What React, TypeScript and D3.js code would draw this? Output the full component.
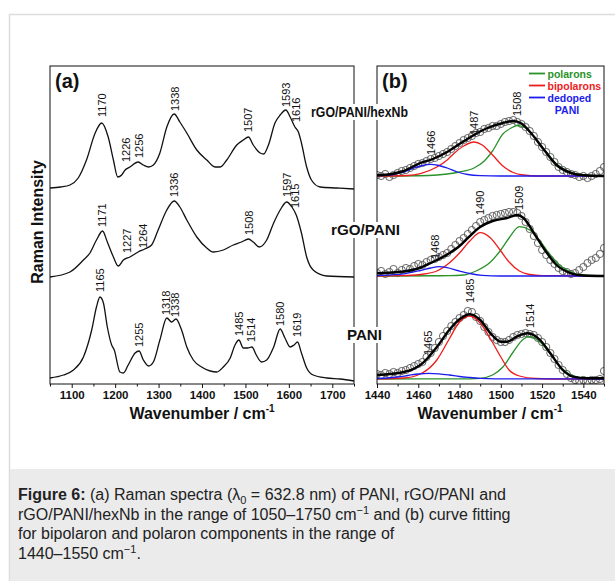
import React, { useEffect, useRef } from "react";
import * as d3 from "d3";

const FONT = "'Liberation Sans', Arial, sans-serif";

// ---- panel (a): Raman spectra, [wavenumber, intensity a.u.] (already stacked) ----
const hexNbSpectrum: [number, number][] = [
  [1050, 196], [1075, 197], [1096, 199], [1115, 206], [1134, 224], [1154, 251], [1169, 261],
  [1184, 247], [1196, 224], [1206, 207], [1215, 209], [1223, 214], [1234, 217], [1253, 222],
  [1265, 219], [1277, 217], [1288, 219], [1303, 231], [1319, 257], [1336, 270], [1349, 262],
  [1365, 251], [1388, 234], [1411, 224], [1430, 217], [1442, 217], [1457, 224], [1480, 239],
  [1495, 244], [1507, 247], [1518, 239], [1534, 231], [1542, 230], [1553, 239], [1568, 261],
  [1580, 269], [1593, 274], [1603, 267], [1614, 257], [1622, 252], [1629, 241], [1641, 217],
  [1652, 204], [1672, 197], [1710, 196], [1750, 195],
];

const rgoSpectrum: [number, number][] = [
  [1050, 107], [1096, 112], [1127, 124], [1142, 131], [1157, 144], [1171, 153], [1182, 142],
  [1196, 127], [1207, 118], [1219, 124], [1234, 127], [1253, 132], [1268, 135], [1284, 139],
  [1299, 154], [1319, 174], [1336, 183], [1349, 177], [1365, 164], [1388, 147], [1411, 136],
  [1426, 132], [1449, 134], [1472, 139], [1491, 142], [1507, 145], [1518, 142], [1532, 137],
  [1549, 144], [1565, 161], [1580, 174], [1595, 182], [1607, 177], [1617, 169], [1629, 151],
  [1641, 127], [1656, 114], [1687, 108], [1750, 107],
];

const paniSpectrum: [number, number][] = [
  [1050, 6], [1081, 9], [1104, 14], [1127, 27], [1146, 54], [1157, 77], [1165, 87], [1173, 81],
  [1182, 57], [1192, 39], [1198, 34], [1211, 12], [1219, 11], [1230, 19], [1246, 31], [1255, 33],
  [1265, 24], [1277, 18], [1288, 22], [1303, 44], [1319, 66], [1330, 62], [1340, 65], [1353, 54],
  [1365, 37], [1380, 24], [1399, 17], [1419, 13], [1434, 12], [1449, 17], [1465, 26], [1476, 39],
  [1485, 44], [1495, 36], [1505, 36], [1515, 37], [1525, 29], [1537, 22], [1549, 24], [1565, 37],
  [1580, 55], [1591, 46], [1603, 37], [1612, 39], [1620, 42], [1629, 31], [1641, 16], [1656, 9],
  [1687, 6], [1718, 5], [1750, 3],
];

// peak labels [wavenumber, label foot]
const peaksHexNb: [number, number][] = [[1170, 267], [1226, 222], [1256, 226], [1338, 273], [1507, 252], [1593, 277], [1616, 262]];
const peaksRgo: [number, number][] = [[1171, 157], [1227, 131], [1264, 136], [1336, 187], [1508, 149], [1597, 187], [1615, 176]];
const peaksPani: [number, number][] = [[1165, 92], [1255, 37], [1318, 69], [1338, 67], [1485, 48], [1514, 42], [1580, 58], [1619, 47]];

const sampleNames = ["rGO/PANI/hexNb", "rGO/PANI", "PANI"];

// ---- panel (b): curve fitting, values above each baseline ----
const fitOffsets = [208, 108, 5];

const pointsHexNb: [number, number][] = [
  [1440, 1], [1442, 0], [1444, 2], [1446, -1], [1448, 1], [1450, 3], [1452, 5], [1454, 6], [1456, 8],
  [1458, 10], [1460, 12], [1462, 13], [1464, 15], [1466, 17], [1468, 18], [1470, 20], [1472, 22],
  [1474, 24], [1476, 27], [1478, 30], [1480, 33], [1482, 36], [1484, 38], [1486, 40], [1488, 43],
  [1490, 44], [1492, 47], [1494, 48], [1496, 50], [1498, 50], [1500, 52], [1502, 54], [1504, 55],
  [1506, 56], [1508, 54], [1510, 52], [1512, 49], [1514, 45], [1516, 40], [1518, 34], [1520, 29],
  [1522, 24], [1524, 19], [1526, 14], [1528, 9], [1530, 6], [1532, 4], [1534, 2], [1536, 1],
  [1538, -1], [1540, 0], [1542, -2], [1544, 0], [1546, 2], [1548, 5], [1550, 9],
];
const pointsRgo: [number, number][] = [
  [1440, 3], [1442, 5], [1444, 2], [1446, 4], [1448, 7], [1450, 3], [1452, 6], [1454, 8], [1456, 7],
  [1458, 10], [1460, 12], [1462, 11], [1464, 14], [1466, 16], [1468, 17], [1470, 19], [1472, 21],
  [1474, 23], [1476, 27], [1478, 31], [1480, 35], [1482, 38], [1484, 42], [1486, 46], [1488, 50],
  [1490, 54], [1492, 56], [1494, 58], [1496, 60], [1498, 61], [1500, 62], [1502, 63], [1504, 64],
  [1506, 64], [1508, 63], [1510, 60], [1512, 54], [1514, 47], [1516, 40], [1518, 33], [1520, 26],
  [1522, 21], [1524, 16], [1526, 12], [1528, 8], [1530, 5], [1532, 4], [1534, 2], [1536, 3],
  [1538, 6], [1540, 9], [1542, 13], [1544, 16], [1546, 18], [1548, 22], [1550, 28],
];
const pointsPani: [number, number][] = [
  [1440, 5], [1442, 4], [1444, 6], [1446, 5], [1448, 7], [1450, 6], [1452, 8], [1454, 9], [1456, 11],
  [1458, 13], [1460, 15], [1462, 17], [1464, 22], [1466, 26], [1468, 31], [1470, 37], [1472, 43],
  [1474, 48], [1476, 53], [1478, 57], [1480, 61], [1482, 64], [1484, 68], [1486, 67], [1488, 62],
  [1490, 58], [1492, 52], [1494, 47], [1496, 42], [1498, 39], [1500, 37], [1502, 37], [1504, 39],
  [1506, 42], [1508, 44], [1510, 45], [1512, 46], [1514, 45], [1516, 44], [1518, 41], [1520, 37],
  [1522, 32], [1524, 26], [1526, 20], [1528, 14], [1530, 9], [1532, 5], [1534, 1], [1536, -1],
  [1538, -2], [1540, -1], [1542, -2], [1544, -1], [1546, -1], [1548, 0], [1550, 8],
];

const fitHexNb: [number, number][] = [
  [1440, 0.7], [1447, 2], [1453, 5], [1461, 13], [1467, 17], [1474, 24], [1480, 32], [1487, 41],
  [1493, 47.5], [1501, 53], [1506, 55], [1510, 52.5], [1515, 42], [1521, 26], [1527, 11],
  [1534, 3], [1540, 0.7], [1550, 0],
];
const polaronHexNb: [number, number][] = [
  [1440, 0], [1465, 0.5], [1474, 2], [1480, 4], [1487, 8], [1492, 15], [1496, 25], [1501, 42],
  [1505, 48], [1508, 50.5], [1512, 48], [1517, 37], [1522, 24], [1527, 12], [1533, 4.5], [1540, 1], [1550, 0],
];
const bipolaronHexNb: [number, number][] = [
  [1440, 0], [1455, 0.5], [1461, 2.3], [1469, 9], [1474, 16], [1477, 22], [1482, 30], [1487, 34],
  [1491, 31], [1496, 21], [1501, 10], [1506, 3.5], [1511, 1], [1518, 0], [1550, 0],
];
const dedopedHexNb: [number, number][] = [
  [1440, 0.3], [1448, 1.5], [1453, 4], [1458, 8], [1462, 10.5], [1466, 11.7], [1470, 10.5],
  [1474, 8], [1479, 4], [1484, 1.5], [1490, 0.4], [1500, 0], [1550, 0],
];

const fitRgo: [number, number][] = [
  [1440, 2.7], [1453, 4.5], [1460, 7.5], [1466, 13], [1475, 22.7], [1480, 30], [1484, 38], [1490, 49],
  [1496, 55], [1503, 58], [1508, 61], [1511, 58], [1516, 43], [1521, 27], [1527, 11], [1534, 2.7],
  [1540, 0.5], [1550, 0],
];
const polaronRgo: [number, number][] = [
  [1440, 0], [1475, 0.3], [1482, 1], [1488, 5], [1495, 14], [1500, 26], [1504, 38], [1509, 49.3],
  [1514, 46], [1519, 35], [1524, 21], [1529, 10], [1534, 4], [1540, 1], [1550, 0.3],
];
const bipolaronRgo: [number, number][] = [
  [1440, 0], [1452, 0.3], [1461, 1.5], [1469, 5], [1475, 13], [1480, 23], [1485, 35], [1490, 43.3],
  [1495, 38], [1500, 25], [1504, 14], [1509, 5], [1514, 1.5], [1520, 0.3], [1550, 0],
];
const dedopedRgo: [number, number][] = [
  [1440, 0.5], [1447, 1.2], [1453, 2.2], [1461, 5.5], [1466, 8], [1470, 9.3], [1474, 8.3],
  [1479, 5.5], [1485, 2.5], [1491, 0.7], [1500, 0], [1550, 0],
];

const fitPani: [number, number][] = [
  [1440, 4], [1453, 7], [1462, 15.7], [1469, 32], [1475, 49], [1480, 59.7], [1485, 64.7], [1490, 59],
  [1495, 45.7], [1500, 37.3], [1503, 37.3], [1508, 42.7], [1513, 45.7], [1519, 39], [1524, 25.7],
  [1530, 9], [1535, 2.3], [1542, 0.7], [1550, 0.7],
];
const polaronPani: [number, number][] = [
  [1440, 0], [1485, 0.2], [1490, 0.7], [1496, 4], [1501, 12], [1506, 27], [1511, 40], [1514, 42.3],
  [1519, 37], [1524, 25], [1529, 12], [1534, 4], [1540, 1], [1550, 0],
];
const bipolaronPani: [number, number][] = [
  [1440, 0.2], [1453, 1], [1461, 5], [1469, 19], [1475, 40], [1480, 57], [1485, 63], [1490, 56],
  [1495, 40], [1500, 22], [1504, 9], [1509, 3], [1517, 0.5], [1530, 0], [1550, 0],
];
const dedopedPani: [number, number][] = [
  [1440, 0.5], [1445, 1], [1450, 2], [1455, 3.5], [1460, 5], [1465, 5.7], [1470, 5.2], [1475, 4],
  [1480, 2.5], [1485, 1.5], [1490, 0.7], [1497, 0.2], [1550, 0],
];

const peaksB: [number, number][][] = [
  [[1466, 21], [1487, 41], [1508, 60]],
  [[1468, 17], [1490, 61], [1509, 66]],
  [[1465, 24], [1485, 76], [1514, 51]],
];

const legendItems = [
  { label: "polarons", color: "#2a922a" },
  { label: "bipolarons", color: "#ee1c1c" },
  { label: "dedoped", color: "#1c1cee" },
];

const ticksA = d3.range(1100, 1701, 100);
const minorA = d3.range(1050, 1751, 100);
const ticksB = d3.range(1440, 1541, 20);
const minorB = d3.range(1450, 1551, 20);

// scales
const xA = d3.scaleLinear().domain([1050, 1750]).range([50, 354]);
const xB = d3.scaleLinear().domain([1440, 1550]).range([377, 604]);
const y = d3.scaleLinear().domain([0, 318]).range([384, 66]);

const Axis = ({ scale, major, minor }: any) => {
  const ref = useRef<SVGGElement>(null);
  useEffect(() => {
    const g = d3.select(ref.current);
    g.selectAll("*").remove();
    g.append("g").call(d3.axisBottom(scale).tickValues(minor).tickSize(2.5).tickFormat(() => ""));
    g.append("g").call(
      d3.axisBottom(scale).tickValues(major).tickSize(4).tickPadding(3).tickFormat(d3.format("d"))
    );
    g.selectAll(".domain").remove();
    g.selectAll("line").attr("stroke", "#111");
    g.selectAll("text")
      .attr("font-size", 11.5)
      .attr("font-weight", "bold")
      .attr("font-family", FONT)
      .attr("fill", "#111");
  }, [scale]);
  return <g ref={ref} transform="translate(0,384)" />;
};

const PeakLabels = ({ peaks, x, offset = 0 }: any) => (
  <g fontSize={11} fill="#111">
    {peaks.map(([wn, v]: [number, number]) => (
      <text key={wn} transform={`translate(${x(wn)},${y(v + offset)}) rotate(-90)`} dy="0.35em">
        {wn}
      </text>
    ))}
  </g>
);

export default function App() {
  const lineA = d3
    .line<[number, number]>()
    .x((d) => xA(d[0]))
    .y((d) => y(d[1]))
    .curve(d3.curveMonotoneX);
  const lineB = (off: number) =>
    d3
      .line<[number, number]>()
      .x((d) => xB(d[0]))
      .y((d) => y(d[1] + off))
      .curve(d3.curveMonotoneX);

  const fits = [
    { pts: pointsHexNb, fit: fitHexNb, comps: [polaronHexNb, bipolaronHexNb, dedopedHexNb] },
    { pts: pointsRgo, fit: fitRgo, comps: [polaronRgo, bipolaronRgo, dedopedRgo] },
    { pts: pointsPani, fit: fitPani, comps: [polaronPani, bipolaronPani, dedopedPani] },
  ];

  // sample name boxes: x start, text width, y value
  const nameBoxes = [
    { x: 311, w: 97, v: 272 },
    { x: 331, w: 69, v: 154 },
    { x: 347, w: 35, v: 49 },
  ];

  return (
    <svg
      width={615}
      height={581}
      style={{ position: "absolute", left: 0, top: 0, background: "#fff" }}
      fontFamily={FONT}
    >
      <defs>
        <clipPath id="clipB">
          <rect x={377} y={66} width={227} height={318} />
        </clipPath>
      </defs>
      <rect x={9.5} y={14.5} width={620} height={600} fill="#fff" stroke="#dcdcdc" strokeWidth={1.5} />
      <rect x={10} y={469} width={605} height={112} fill="#ebebeb" />

      {/* panel (a) */}
      <g fill="none" stroke="#111" strokeWidth={1.3}>
        {[hexNbSpectrum, rgoSpectrum, paniSpectrum].map((s, i) => (
          <path key={i} d={lineA(s) || ""} />
        ))}
      </g>
      <PeakLabels peaks={peaksHexNb} x={xA} />
      <PeakLabels peaks={peaksRgo} x={xA} />
      <PeakLabels peaks={peaksPani} x={xA} />
      <rect x={50} y={66} width={304} height={318} fill="none" stroke="#111" strokeWidth={1} />
      <Axis scale={xA} major={ticksA} minor={minorA} />
      <text x={55} y={88} fontSize={20} fontWeight="bold" fill="#111">(a)</text>
      <text x={202} y={419} fontSize={16} fontWeight="bold" textAnchor="middle" fill="#111">
        Wavenumber / cm<tspan fontSize={10} dy={-7}>-1</tspan>
      </text>
      <text
        transform="translate(43,222) rotate(-90)"
        fontSize={16}
        fontWeight="bold"
        textAnchor="middle"
        fill="#111"
      >
        Raman Intensity
      </text>

      {/* panel (b) */}
      <g clipPath="url(#clipB)">
        {fits.map((f, i) => (
          <g key={i}>
            <g fill="none" stroke="#555" strokeWidth={0.9}>
              {f.pts.map((d) => (
                <circle key={d[0]} cx={xB(d[0])} cy={y(d[1] + fitOffsets[i])} r={3.6} />
              ))}
            </g>
            {f.comps.map((c, j) => (
              <path key={j} d={lineB(fitOffsets[i])(c) || ""} fill="none" stroke={legendItems[j].color} strokeWidth={1.3} />
            ))}
            <path d={lineB(fitOffsets[i])(f.fit) || ""} fill="none" stroke="#000" strokeWidth={2.4} />
          </g>
        ))}
      </g>
      {peaksB.map((p, i) => (
        <PeakLabels key={i} peaks={p} x={xB} offset={fitOffsets[i]} />
      ))}
      <rect x={377} y={66} width={227} height={318} fill="none" stroke="#111" strokeWidth={1} />
      <Axis scale={xB} major={ticksB} minor={minorB} />
      <text x={382} y={88} fontSize={20} fontWeight="bold" fill="#111">(b)</text>
      <text x={490} y={419} fontSize={16} fontWeight="bold" textAnchor="middle" fill="#111">
        Wavenumber / cm<tspan fontSize={10} dy={-7}>-1</tspan>
      </text>

      {/* legend */}
      <g fontSize={10.5} fontWeight="bold">
        {legendItems.map((it, i) => (
          <g key={it.label} transform={`translate(529,${73.5 + i * 12})`}>
            <line x1={0} x2={16} y1={0} y2={0} stroke={it.color} strokeWidth={1.8} />
            <text x={18.5} y={4} fill={it.color}>{it.label}</text>
          </g>
        ))}
        <text x={567} y={113.5} fill={legendItems[2].color} textAnchor="middle">PANI</text>
      </g>

      {/* sample names between panels */}
      {sampleNames.map((n, i) => (
        <g key={n}>
          <rect x={nameBoxes[i].x - 1} y={y(nameBoxes[i].v) - 8} width={nameBoxes[i].w + 2} height={16} fill="#fff" />
          <text
            x={nameBoxes[i].x}
            y={y(nameBoxes[i].v)}
            dy="0.36em"
            fontSize={14}
            fontWeight="bold"
            fill="#111"
            textLength={nameBoxes[i].w}
            lengthAdjust="spacingAndGlyphs"
          >
            {n}
          </text>
        </g>
      ))}

      {/* caption */}
      <g fontSize={16} fill="#222">
        <text x={18} y={500}>
          <tspan fontWeight="bold">Figure 6:</tspan>
          {" (a) Raman spectra (λ"}
          <tspan fontSize={11} dy={4}>0</tspan>
          <tspan dy={-4}>{" = 632.8 nm) of PANI, rGO/PANI and"}</tspan>
        </text>
        <text x={18} y={520}>
          {"rGO/PANI/hexNb in the range of 1050–1750 cm"}
          <tspan fontSize={11} dy={-6}>−1</tspan>
          <tspan dy={6}>{" and (b) curve fitting"}</tspan>
        </text>
        <text x={18} y={539}>for bipolaron and polaron components in the range of</text>
        <text x={18} y={559}>
          {"1440–1550 cm"}
          <tspan fontSize={11} dy={-6}>−1</tspan>
          <tspan dy={6}>.</tspan>
        </text>
      </g>
    </svg>
  );
}
